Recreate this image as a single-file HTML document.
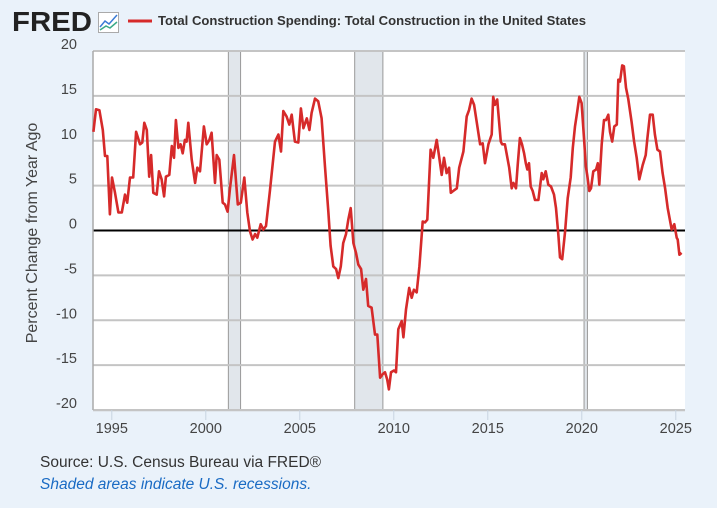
<!DOCTYPE html>
<html><head><meta charset="utf-8"><style>
body{margin:0;width:717px;height:508px;background:#eaf2fa;font-family:"Liberation Sans",sans-serif;overflow:hidden}
</style></head><body>
<svg width="717" height="508" id="chart" style="position:absolute;left:0;top:0">
<text x="12" y="31" font-size="28" font-weight="bold" fill="#222" textLength="80" lengthAdjust="spacingAndGlyphs">FRED</text>
<g><rect x="98.5" y="12.5" width="20" height="20" fill="#fff" stroke="#aaa"/><polyline points="100,27 105,21 109,24 117,15" fill="none" stroke="#3a7bd5" stroke-width="1.5"/><polyline points="100,30 106,26 110,28 117,22" fill="none" stroke="#3aaa88" stroke-width="1.5"/></g>
<line x1="128" y1="21" x2="152" y2="21" stroke="#d62a2a" stroke-width="3"/>
<text x="158" y="25" font-size="13" font-weight="bold" fill="#333" textLength="428" lengthAdjust="spacingAndGlyphs">Total Construction Spending: Total Construction in the United States</text>
<rect x="93" y="51" width="592" height="359" fill="#fff"/>
<g id="rec"></g><g id="grid"></g><g id="ylab"></g><g id="xlab"></g>
<polyline id="line" fill="none" stroke="#d62a2a" stroke-width="2.6" stroke-linejoin="round"/>
<text transform="translate(37,233) rotate(-90)" text-anchor="middle" font-size="16" fill="#444">Percent Change from Year Ago</text>
<text x="40" y="467" font-size="15.5" fill="#333">Source: U.S. Census Bureau via FRED®</text>
<text x="40" y="489" font-size="15.5" font-style="italic" fill="#1a6bc4">Shaded areas indicate U.S. recessions.</text>
</svg>
<script>
const dates=[1994.02,1994.16,1994.34,1994.52,1994.64,1994.76,1994.90,1995.01,1995.17,1995.35,1995.53,1995.70,1995.82,1995.97,1996.14,1996.29,1996.50,1996.62,1996.73,1996.86,1996.99,1997.09,1997.21,1997.39,1997.51,1997.65,1997.78,1997.88,1998.06,1998.19,1998.31,1998.41,1998.54,1998.66,1998.77,1998.89,1998.98,1999.07,1999.25,1999.43,1999.55,1999.69,1999.90,2000.05,2000.19,2000.31,2000.49,2000.58,2000.72,2000.90,2001.02,2001.16,2001.29,2001.50,2001.70,2001.86,2002.05,2002.21,2002.35,2002.49,2002.62,2002.74,2002.92,2003.06,2003.20,2003.41,2003.68,2003.86,2004.00,2004.12,2004.30,2004.44,2004.57,2004.74,2004.92,2005.06,2005.19,2005.37,2005.51,2005.63,2005.81,2005.98,2006.16,2006.34,2006.52,2006.64,2006.78,2006.93,2007.05,2007.18,2007.31,2007.46,2007.58,2007.71,2007.85,2007.99,2008.11,2008.26,2008.38,2008.52,2008.64,2008.82,2009.00,2009.12,2009.27,2009.41,2009.53,2009.65,2009.74,2009.85,2010.01,2010.12,2010.24,2010.42,2010.51,2010.65,2010.82,2010.95,2011.07,2011.22,2011.36,2011.54,2011.66,2011.78,2011.96,2012.10,2012.28,2012.40,2012.55,2012.67,2012.81,2012.94,2013.03,2013.16,2013.35,2013.48,2013.70,2013.88,2014.00,2014.14,2014.27,2014.41,2014.59,2014.73,2014.85,2015.03,2015.21,2015.29,2015.38,2015.50,2015.60,2015.69,2015.76,2015.91,2016.14,2016.27,2016.36,2016.50,2016.59,2016.71,2016.82,2016.93,2017.02,2017.10,2017.19,2017.28,2017.39,2017.51,2017.69,2017.87,2017.95,2018.08,2018.22,2018.36,2018.52,2018.63,2018.75,2018.84,2018.96,2019.11,2019.25,2019.41,2019.52,2019.64,2019.76,2019.87,2019.99,2020.12,2020.22,2020.29,2020.40,2020.49,2020.61,2020.76,2020.85,2020.93,2021.06,2021.18,2021.29,2021.41,2021.50,2021.62,2021.73,2021.86,2021.94,2022.03,2022.15,2022.24,2022.35,2022.47,2022.65,2022.78,2022.92,2023.06,2023.24,2023.40,2023.49,2023.63,2023.77,2023.89,2024.02,2024.16,2024.30,2024.43,2024.57,2024.78,2024.92,2025.05,2025.10,2025.19,2025.31,2025.43];
const values=[11.0,13.5,13.4,11.2,8.3,8.3,1.8,5.9,4.2,2.0,2.0,4.0,3.1,5.9,5.9,11.0,9.6,9.8,12.0,11.2,6.0,8.4,4.2,4.0,6.6,5.7,3.8,6.0,6.2,9.4,8.1,12.3,9.2,9.6,8.6,10.1,9.9,12.0,7.9,5.3,7.0,6.6,11.6,9.6,10.1,10.9,5.3,8.4,7.9,3.1,2.9,2.1,4.7,8.4,2.9,3.1,5.9,2.0,-0.1,-1.0,-0.4,-0.8,0.7,0.1,0.5,4.4,9.9,10.7,8.8,13.3,12.7,11.8,12.9,9.9,9.8,13.6,11.4,12.5,11.2,13.1,14.7,14.4,12.5,7.1,2.0,-1.7,-4.0,-4.3,-5.3,-4.0,-1.4,-0.4,1.2,2.5,-1.4,-2.5,-3.8,-4.3,-6.6,-5.4,-8.4,-8.6,-11.6,-11.6,-16.4,-16.0,-15.8,-16.6,-17.7,-15.8,-15.6,-15.8,-11.0,-10.1,-11.9,-8.8,-6.4,-7.5,-6.6,-6.9,-4.0,1.0,0.9,1.2,9.0,8.1,10.1,8.4,6.2,8.1,6.4,7.0,4.2,4.4,4.7,7.0,8.8,12.7,13.4,14.7,14.0,12.1,9.6,9.7,7.5,9.6,10.7,14.9,14.0,14.6,12.1,9.9,9.6,9.6,7.0,4.7,5.3,4.7,7.3,10.3,9.6,8.6,7.5,6.8,7.5,4.9,4.4,3.4,3.4,6.4,5.7,6.6,5.1,4.9,4.0,2.5,-0.4,-3.0,-3.2,-0.1,3.6,5.9,9.2,11.6,13.3,14.9,14.2,10.3,7.1,6.2,4.4,4.7,6.6,6.8,7.5,5.1,9.6,12.3,12.3,12.9,11.0,9.9,11.6,11.8,16.8,16.6,18.4,18.3,15.9,14.7,12.1,9.9,8.1,5.7,7.3,8.4,10.3,12.9,12.9,10.7,9.0,8.8,6.4,4.7,2.5,0.1,0.7,-0.8,-1.0,-2.7,-2.5];
const yTicks=[20,15,10,5,0,-5,-10,-15,-20];
const xTicks=[1995,2000,2005,2010,2015,2020,2025];
const recStart=[2001.2,2007.92,2020.12];
const recEnd=[2001.85,2009.42,2020.3];
const X0=93,X1=685,Y0=51,Y1=410,xmin=1994.0,xmax=2025.49,ymin=-20,ymax=20;
const xs=v=>X0+(v-xmin)/(xmax-xmin)*(X1-X0);
const ys=v=>Y1-(v-ymin)/(ymax-ymin)*(Y1-Y0);
const NS='http://www.w3.org/2000/svg';
function mk(tag,attrs,parent,text){const e=document.createElementNS(NS,tag);for(const k in attrs)e.setAttribute(k,attrs[k]);if(text!==undefined)e.textContent=text;document.getElementById(parent).appendChild(e);return e;}
for(let i=0;i<recStart.length;i++){
 const r=mk('rect',{x:xs(recStart[i]),y:Y0,width:xs(recEnd[i])-xs(recStart[i]),height:Y1-Y0,fill:'#e1e6eb',stroke:'#999','stroke-width':1},'rec');
 
 
}
yTicks.forEach(t=>{
 const l=mk('line',{x1:X0,x2:X1,y1:ys(t),y2:ys(t),stroke:t===0?'#000':'#c4c4c4','stroke-width':2},'grid');
 
 
 const tx=mk('text',{x:77,y:ys(t)-2,'text-anchor':'end','font-size':14.5,fill:'#444'},'ylab',String(t));
 
 
});
const la=mk('line',{x1:X0,x2:X0,y1:Y0,y2:Y1,stroke:'#aaa','stroke-width':1.5},'grid');


const lb=mk('line',{x1:X0,x2:X1,y1:Y1+0.5,y2:Y1+0.5,stroke:'#c4c4c4','stroke-width':1.5},'grid');


xTicks.forEach(t=>{
 const l=mk('line',{x1:xs(t),x2:xs(t),y1:Y1,y2:Y1+10,stroke:'#c8d4e0','stroke-width':1},'xlab');
 
 
 const tx=mk('text',{x:xs(t),y:Y1+23,'text-anchor':'middle','font-size':14.5,fill:'#444'},'xlab',String(t));
 
 
});
document.getElementById('line').setAttribute('points',dates.map((d,i)=>xs(d).toFixed(1)+','+ys(values[i]).toFixed(1)).join(' '));
</script>
</body></html>
